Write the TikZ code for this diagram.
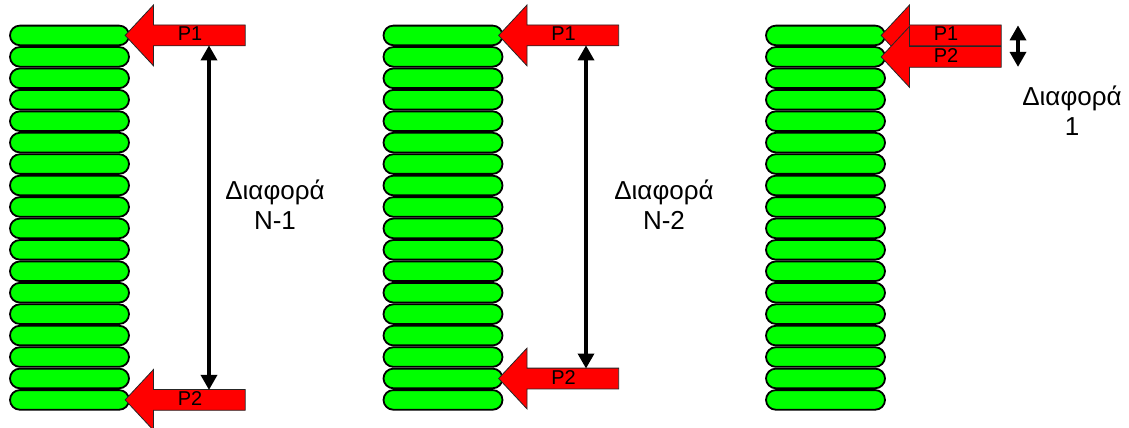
\documentclass[tikz,border=0pt]{standalone}
\usepackage{fontspec}
\setmainfont{Liberation Sans}
\usetikzlibrary{shapes.arrows,arrows.meta,calc}
\begin{document}
\begin{tikzpicture}[x=1pt,y=-1pt,
  disc/.style={draw=black,line width=1.8pt,fill=green,rounded corners=9.8pt,minimum width=119pt,minimum height=19.6pt,inner sep=0pt},
  push/.style={single arrow,shape border rotate=180,draw=black!85,line width=0.8pt,fill=red,minimum height=120pt,single arrow head extend=20pt,single arrow tip angle=94,inner xsep=0pt,inner ysep=0pt,text height=15.5pt,text depth=4.5pt,font=\fontsize{20}{20}\selectfont},
  gap/.style={line width=3.4pt,{Triangle[length=15pt,width=16pt]}-{Triangle[length=15pt,width=16pt]}},
  lbl/.style={align=center,font=\fontsize{26}{30}\selectfont}]
\useasboundingbox (0,0) rectangle (1129,428);
% stacks
\foreach \i in {1,...,18} {
  \node[disc] (a\i) at (69.5, {24.7+21.44*(\i-0.5)}) {};
  \node[disc] (b\i) at (443, {24.7+21.44*(\i-0.5)}) {};
  \node[disc] (c\i) at (825.5, {24.7+21.44*(\i-0.5)}) {};
}
% arrows stack 1
\node[push] (ap1) at (190,35.4) {P1};
\node[push] (ap2) at (190,399.9) {P2};
\draw[gap] ($(ap1.center)+(19,10)$) -- ($(ap2.center)+(19,-10)$);
\node[lbl] (al) at (275,205) {Διαφορά\\N-1};
% arrows stack 2
\node[push] (bp1) at (563.5,35.4) {P1};
\node[push] (bp2) at (563.5,378.5) {P2};
\draw[gap] ($(bp1.center)+(22.5,10)$) -- ($(bp2.center)+(22.5,-10)$);
\node[lbl] (bl) at (664,205) {Διαφορά\\N-2};
% arrows stack 3
\node[push] (cp1) at (946,35.4) {P1};
\node[push] (cp2) at (946,56.9) {P2};
\draw[gap] ($(cp1.center)+(72,-10)$) -- ($(cp2.center)+(72,10)$);
\node[lbl] (cl) at (1072,111) {Διαφορά\\1};
\end{tikzpicture}
\end{document}
